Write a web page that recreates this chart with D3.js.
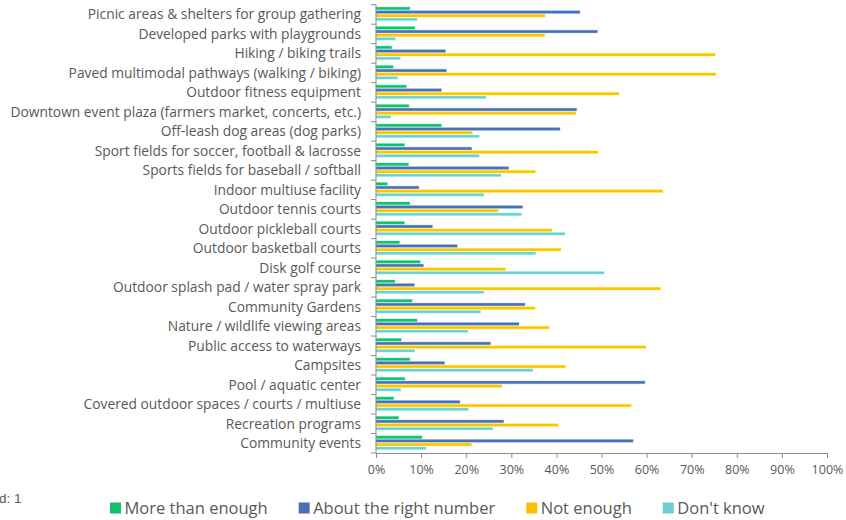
<!DOCTYPE html>
<html>
<head>
<meta charset="utf-8">
<script src="https://cdn.jsdelivr.net/npm/d3@7"></script>
<style>
  body { margin: 0; background: #fff; }
  svg text { font-family: "Open Sans", Lato, sans-serif; fill: #595959; }
</style>
</head>
<body>
<svg id="chart" width="846" height="520"></svg>
<script>
const categories = [
  "Picnic areas & shelters for group gathering",
  "Developed parks with playgrounds",
  "Hiking / biking trails",
  "Paved multimodal pathways (walking / biking)",
  "Outdoor fitness equipment",
  "Downtown event plaza (farmers market, concerts, etc.)",
  "Off-leash dog areas (dog parks)",
  "Sport fields for soccer, football & lacrosse",
  "Sports fields for baseball / softball",
  "Indoor multiuse facility",
  "Outdoor tennis courts",
  "Outdoor pickleball courts",
  "Outdoor basketball courts",
  "Disk golf course",
  "Outdoor splash pad / water spray park",
  "Community Gardens",
  "Nature / wildlife viewing areas",
  "Public access to waterways",
  "Campsites",
  "Pool / aquatic center",
  "Covered outdoor spaces / courts / multiuse",
  "Recreation programs",
  "Community events"
];

const seriesNames = ["More than enough", "About the right number", "Not enough", "Don't know"];

const moreThanEnough = [7.5, 8.6, 3.5, 3.8, 6.7, 7.3, 14.5, 6.3, 7.2, 2.5, 7.5, 6.3, 5.2, 9.8, 4.2, 8.0, 9.1, 5.6, 7.5, 6.4, 3.9, 5.0, 10.2];
const aboutRight     = [45.2, 49.1, 15.4, 15.6, 14.5, 44.5, 40.8, 21.2, 29.4, 9.5, 32.5, 12.5, 18.0, 10.5, 8.5, 33.0, 31.7, 25.4, 15.2, 59.6, 18.6, 28.3, 57.0];
const notEnough      = [37.5, 37.4, 75.2, 75.4, 53.9, 44.3, 21.4, 49.2, 35.3, 63.6, 27.1, 39.0, 41.0, 28.7, 63.1, 35.3, 38.4, 59.9, 42.0, 27.9, 56.6, 40.4, 21.2];
const dontKnow       = [9.1, 4.3, 5.4, 4.8, 24.4, 3.3, 22.9, 22.9, 27.7, 23.9, 32.3, 41.9, 35.4, 50.6, 23.9, 23.2, 20.4, 8.6, 34.8, 5.5, 20.5, 25.9, 11.1];

const xTicks = [0, 10, 20, 30, 40, 50, 60, 70, 80, 90, 100];
const colors = ["#12BF6C", "#4A70B3", "#FFC000", "#6CCDD2"];

const valueSets = [moreThanEnough, aboutRight, notEnough, dontKnow];
const rows = categories.map((c, i) => ({
  cat: c,
  vals: seriesNames.map((s, k) => ({ key: s, v: valueSets[k][i], color: colors[k] }))
}));

const svg = d3.select("#chart");
const plotLeft = 376, plotRight = 827, plotTop = 4.7, plotBottom = 453;

const x = d3.scaleLinear().domain([0, 100]).range([plotLeft, plotRight]);
const y = d3.scaleBand().domain(categories).range([plotTop, plotBottom]);
const y1 = d3.scaleBand().domain(seriesNames).range([2.4, 16.0]).paddingInner(0.28);

// bars
const groups = svg.append("g").selectAll("g")
  .data(rows)
  .join("g")
  .attr("transform", d => `translate(0,${y(d.cat)})`);

groups.selectAll("rect")
  .data(d => d.vals)
  .join("rect")
  .attr("x", x(0))
  .attr("y", d => y1(d.key))
  .attr("width", d => x(d.v) - x(0))
  .attr("height", y1.bandwidth())
  .attr("fill", d => d.color)
  .attr("stroke", d => d3.color(d.color).brighter(0.6))
  .attr("stroke-opacity", 0.35)
  .attr("stroke-width", 1);

// y axis: line + ticks at band boundaries
const axisColor = "#8c8c8c";
const yAxis = svg.append("g");
yAxis.append("line")
  .attr("x1", plotLeft).attr("x2", plotLeft)
  .attr("y1", plotTop).attr("y2", plotBottom)
  .attr("stroke", axisColor);
yAxis.selectAll("line.tk")
  .data(categories.map(c => y(c)).concat([plotBottom]))
  .join("line")
  .attr("class", "tk")
  .attr("x1", plotLeft - 5).attr("x2", plotLeft)
  .attr("y1", d => d).attr("y2", d => d)
  .attr("stroke", axisColor);
yAxis.selectAll("text")
  .data(categories)
  .join("text")
  .attr("x", 361)
  .attr("y", d => y(d) + y.bandwidth() / 2)
  .attr("dy", "0.35em")
  .attr("text-anchor", "end")
  .attr("font-size", 13.8)
  .text(d => d);

// x axis
const xAxis = svg.append("g")
  .attr("transform", `translate(0,${plotBottom})`)
  .call(d3.axisBottom(x).tickValues(xTicks).tickSize(5).tickSizeOuter(0).tickFormat(d => d + "%"));
xAxis.select(".domain").attr("stroke", axisColor);
xAxis.selectAll(".tick line").attr("stroke", axisColor);
xAxis.selectAll(".tick text")
  .attr("y", 12)
  .attr("font-size", 12.5)
  .attr("fill", "#595959")
  .style("font-family", "'Open Sans', sans-serif");

// legend
const legend = svg.append("g").attr("transform", "translate(110,508)");
let lx = 0;
seriesNames.forEach((s, k) => {
  const item = legend.append("g").attr("transform", `translate(${lx},0)`);
  item.append("rect")
    .attr("x", 0).attr("y", -5.5)
    .attr("width", 11).attr("height", 11)
    .attr("fill", colors[k]);
  const t = item.append("text")
    .attr("x", 14.5).attr("dy", "0.35em")
    .attr("font-size", 16.5)
    .text(s);
  lx += 14.5 + t.node().getComputedTextLength() + 31;
});

// clipped note at the left edge
svg.append("text")
  .attr("x", -1).attr("y", 503)
  .attr("font-size", 13.5)
  .style("font-family", "'Liberation Sans', Arial, sans-serif")
  .attr("fill", "#777")
  .text("d: 1");
</script>
</body>
</html>
